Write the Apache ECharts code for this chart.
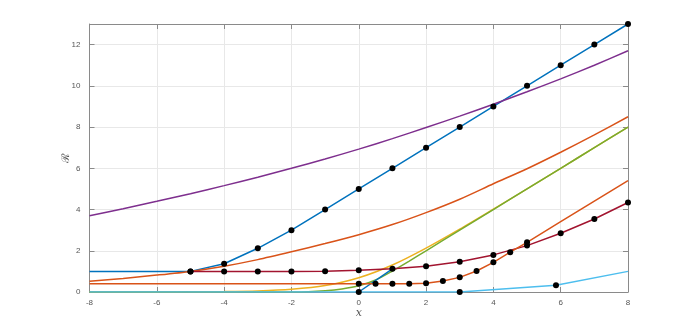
<!DOCTYPE html>
<html>
<head>
<meta charset="utf-8">
<script src="https://cdn.jsdelivr.net/npm/echarts@6/dist/echarts.min.js"></script>
<style>
  html, body { margin: 0; padding: 0; background: #fff; }
  #chart { width: 694px; height: 328px; }
</style>
</head>
<body>
<div id="chart"></div>
<script>
// integer grid used by most curves
const xInt = [-8, -7, -6, -5, -4, -3, -2, -1, 0, 1, 2, 3, 4, 5, 6, 7, 8]

// blue line with markers from -5
const blueY = [1, 1, 1, 1, 1.37, 2.12, 3, 4, 5, 6, 7, 8, 9, 10, 11, 12, 13]
const blueMarkFrom = -5

// upper orange curve
const orangeY = [0.52, 0.66, 0.82, 1.0, 1.25, 1.57, 1.95, 2.35, 2.78, 3.27, 3.85, 4.5, 5.25, 5.98, 6.78, 7.62, 8.5]

// yellow curve
const yellowY = [0, 0, 0, 0.01, 0.02, 0.05, 0.13, 0.31, 0.69, 1.31, 2.13, 3.05, 4.02, 5.0, 6.0, 7.0, 8.0]

// purple curve
const purpleY = [3.7, 4.04, 4.4, 4.77, 5.16, 5.57, 6.0, 6.45, 6.93, 7.44, 7.98, 8.53, 9.11, 9.71, 10.34, 11.0, 11.7]

// green curve
const greenX = [-8, -2, -1.5, -1, -0.5, 0, 0.5, 1, 1.5, 2, 3, 4, 5, 6, 7, 8]
const greenY = [0, 0, 0.01, 0.06, 0.15, 0.3, 0.58, 1.02, 1.5, 2.0, 3.0, 4.0, 5.0, 6.0, 7.0, 8.0]

// light blue line
const cyanX = [-8, 3, 5.86, 8]
const cyanY = [0, 0, 0.33, 1.0]
const cyanMarks = [3, 5.86]

// dark red line with markers
const redX = [-5, -4, -3, -2, -1, 0, 1, 2, 3, 4, 5, 6, 7, 8]
const redY = [1, 1, 1, 1, 1.01, 1.05, 1.13, 1.25, 1.47, 1.8, 2.25, 2.85, 3.54, 4.34]

// short blue segment
const segX = [0, 1]
const segY = [0, 1.12]
const segMarks = [0]

// lower orange line with markers 0..5
const lowX = [-8, -7, -6, -5, -4, -3, -2, -1, 0, 0.5, 1, 1.5, 2, 2.5, 3, 3.5, 4, 4.5, 5, 6, 7, 8]
const lowY = [0.4, 0.4, 0.4, 0.4, 0.4, 0.4, 0.4, 0.4, 0.4, 0.4, 0.4, 0.4, 0.43, 0.53, 0.71, 1.02, 1.44, 1.93, 2.41, 3.41, 4.41, 5.4]
const lowMarks = [0, 0.5, 1, 1.5, 2, 2.5, 3, 3.5, 4, 4.5, 5]

function pts(xs, ys, marked) {
  return xs.map((x, i) => ({
    value: [x, ys[i]],
    symbol: marked(x) ? 'circle' : 'none'
  }))
}

function line(color, data, smooth) {
  return {
    type: 'line',
    data: data,
    smooth: smooth ? 0.25 : false,
    showAllSymbol: true,
    symbolSize: 6,
    lineStyle: { color: color, width: 1.5 },
    itemStyle: { color: '#000', borderWidth: 0 },
    emphasis: { disabled: true },
    animation: false
  }
}

const never = () => false
const always = () => true

let chart = echarts.init(document.getElementById('chart'))

const axisCommon = {
  axisLine: { show: true, onZero: false, lineStyle: { color: '#8a8a8a', width: 1 } },
  axisTick: { show: true, inside: true, length: 5, lineStyle: { color: '#8a8a8a' } }
}

const option = {
  animation: false,
  grid: { left: 89.5, right: 66, top: 24, bottom: 36 },
  xAxis: [
    Object.assign({
      type: 'value', min: -8, max: 8, interval: 2, position: 'bottom',
      axisLabel: { fontSize: 8, color: '#555', margin: 7, fontFamily: 'Liberation Sans' },
      splitLine: { show: true, lineStyle: { color: '#e8e8e8', width: 1 } },
      name: 'x', nameLocation: 'middle', nameGap: 16, nameMoveOverlap: false,
      nameTextStyle: { fontFamily: 'DejaVu Serif', fontStyle: 'italic', fontSize: 11, color: '#555' }
    }, axisCommon),
    Object.assign({
      type: 'value', min: -8, max: 8, interval: 2, position: 'top',
      axisLabel: { show: false }, splitLine: { show: false }
    }, axisCommon)
  ],
  yAxis: [
    Object.assign({
      type: 'value', min: 0, max: 13, interval: 2, position: 'left',
      axisLabel: { fontSize: 8, color: '#555', margin: 9, fontFamily: 'Liberation Sans', showMaxLabel: false },
      splitLine: { show: true, lineStyle: { color: '#e8e8e8', width: 1 } },
      name: 'ℛ', nameLocation: 'middle', nameGap: 18, nameRotate: 90, nameMoveOverlap: false,
      nameTextStyle: { fontFamily: 'DejaVu Serif', fontSize: 11, color: '#555' }
    }, axisCommon),
    Object.assign({
      type: 'value', min: 0, max: 13, interval: 2, position: 'right',
      axisLabel: { show: false }, splitLine: { show: false }
    }, axisCommon)
  ],
  series: [
    line('#0072BD', pts(xInt, blueY, x => x >= blueMarkFrom), false),
    line('#D95319', pts(xInt, orangeY, never), true),
    line('#EDB120', pts(xInt, yellowY, never), true),
    line('#7E2F8E', pts(xInt, purpleY, never), true),
    line('#77AC30', pts(greenX, greenY, never), true),
    line('#4DBEEE', pts(cyanX, cyanY, x => cyanMarks.includes(x)), false),
    line('#A2142F', pts(redX, redY, always), false),
    line('#0072BD', pts(segX, segY, x => segMarks.includes(x)), false),
    line('#D95319', pts(lowX, lowY, x => lowMarks.includes(x)), false)
  ]
}

chart.setOption(option)
</script>
</body>
</html>
